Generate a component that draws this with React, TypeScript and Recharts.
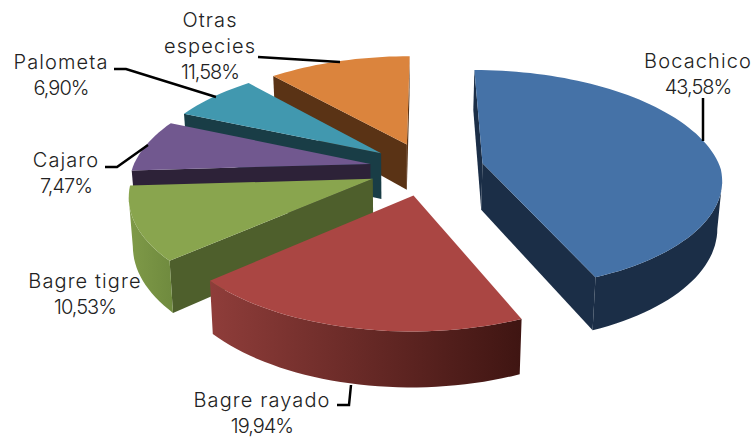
import React from 'react';
import { PieChart, Pie } from 'recharts';

// back-to-front so the nearer slices paint over the farther ones
const SPECIES = ['Otras especies', 'Palometa', 'Cajaro', 'Bagre tigre', 'Bagre rayado', 'Bocachico'];
const SHARES = [11.58, 6.9, 7.47, 10.53, 19.94, 43.58];

const TOP_COLORS = ['#DB843D', '#4198AF', '#71588F', '#89A54E', '#AA4643', '#4572A7'];
const CUT_COLORS = ['#5A3315', '#193D46', '#2D2238', '#4E5F2C', '#3F1512', '#1B2E47'];
const ARC_FROM = ['#8A5A2C', '#2A6878', '#4A3A60', '#7F9A48', '#8F3D3A', '#1B2E47'];
const ARC_TO = ['#5A3315', '#193D46', '#2D2238', '#6F8A3E', '#3F1512', '#1B2E47'];

const LABELS: Record<string, { lines: string[]; x: number; y: number; leader?: number[][] }> = {
  Bocachico: { lines: ['Bocachico'], x: 698, y: 68, leader: [[703, 98], [703, 141]] },
  'Bagre rayado': { lines: ['Bagre rayado'], x: 262, y: 407, leader: [[337, 405], [349, 405], [351, 385]] },
  'Bagre tigre': { lines: ['Bagre tigre'], x: 85, y: 288 },
  Cajaro: { lines: ['Cajaro'], x: 66, y: 167, leader: [[105, 167], [117, 167], [148, 145]] },
  Palometa: { lines: ['Palometa'], x: 61, y: 69, leader: [[114, 69], [126, 69], [216, 97]] },
  'Otras especies': { lines: ['Otras', 'especies'], x: 210, y: 27, leader: [[258, 57], [340, 62]] },
};

const data = SPECIES.map((name, i) => ({ name, value: SHARES[i] }));

const W = 752;
const H = 438;
const TILT = 0.465;
const EXPLODE = 0.2416;
const DEPTH = 47;
const FONT = 'Inter, Lato, sans-serif';

const rad = (d: number) => (d * Math.PI) / 180;

// flat plane -> screen, the far half shrinks a bit faster than the near half grows
const toScreen = (cx: number, cy: number, r: number, X: number, Y: number) => {
  const s = 1 / (1 + (Y > 0 ? 0.17 : 0.13) * Y);
  return { x: cx + r * X * s, y: cy - r * TILT * Y * s, s };
};

const under = (p: { x: number; y: number; s: number }) => ({
  x: 400 + (p.x - 400) * 0.985,
  y: p.y + DEPTH * p.s,
  s: p.s,
});

const pathOf = (pts: { x: number; y: number }[]) =>
  'M' + pts.map((p) => `${p.x.toFixed(1)},${p.y.toFixed(1)}`).join('L') + 'Z';

const Wedge3D = (props: any) => {
  const { cx, cy, outerRadius: r, startAngle, endAngle, name } = props;
  const i = SPECIES.indexOf(name);
  const a = 90 - endAngle; // theta: clockwise from 12 o'clock
  const b = 90 - startAngle;
  const mid = (a + b) / 2;
  const ox = EXPLODE * Math.sin(rad(mid));
  const oy = EXPLODE * Math.cos(rad(mid));
  const apex = toScreen(cx, cy, r, ox, oy);
  const arc: { x: number; y: number; s: number }[] = [];
  const steps = Math.ceil((b - a) / 2);
  for (let k = 0; k <= steps; k++) {
    const t = a + ((b - a) * k) / steps;
    arc.push(toScreen(cx, cy, r, ox + Math.sin(rad(t)), oy + Math.cos(rad(t))));
  }

  // only the faces whose rim runs leftwards (clockwise) look at the viewer
  const faces: React.ReactNode[] = [];
  const first = arc[0];
  const last = arc[arc.length - 1];
  if (first.x < apex.x) {
    faces.push(<path key="c1" d={pathOf([apex, first, under(first), under(apex)])} fill={CUT_COLORS[i]} />);
  }
  if (apex.x < last.x) {
    faces.push(<path key="c2" d={pathOf([last, apex, under(apex), under(last)])} fill={CUT_COLORS[i]} />);
  }
  const run = arc.filter((p, k) => k > 0 && p.x < arc[k - 1].x);
  const firstIdx = arc.findIndex((p) => p === run[0]);
  if (run.length) {
    const outline = [arc[firstIdx - 1], ...run];
    const lower = outline.map(under).reverse();
    faces.push(<path key="arc" d={pathOf([...outline, ...lower])} fill={`url(#arc-${i})`} />);
  }
  return (
    <g>
      <defs>
        <linearGradient id={`arc-${i}`} x1="1" y1="0" x2="0" y2="0">
          <stop offset="0" stopColor={ARC_TO[i]} />
          <stop offset="1" stopColor={ARC_FROM[i]} />
        </linearGradient>
      </defs>
      {faces}
      <path d={pathOf([apex, ...arc])} fill={TOP_COLORS[i]} />
    </g>
  );
};

const SliceLabel = (props: any) => {
  const { name, value } = props;
  const l = LABELS[name];
  const pct = value.toFixed(2).replace('.', ',') + '%';
  return (
    <g>
      {l.leader && (
        <polyline
          points={l.leader.map((p) => p.join(',')).join(' ')}
          fill="none"
          stroke="#000"
          strokeWidth={2.5}
        />
      )}
      <text x={l.x} y={l.y} textAnchor="middle" fontFamily={FONT} fontSize={20} fontWeight={300} fill="#222">
        {l.lines.map((t, k) => (
          <tspan key={k} x={l.x} dy={k === 0 ? 0 : 26} letterSpacing={1.1}>
            {t}
          </tspan>
        ))}
        <tspan x={l.x} dy={26} letterSpacing={-1}>
          {pct}
        </tspan>
      </text>
    </g>
  );
};

export default function App() {
  return (
    <div style={{ position: 'absolute', left: 0, top: 0, width: W, height: H, background: '#fff' }}>
      <PieChart width={W} height={H} margin={{ top: 0, right: 0, bottom: 0, left: 0 }}>
        <Pie
          data={data}
          dataKey="value"
          nameKey="name"
          cx={426.6}
          cy={168.5}
          outerRadius={238}
          startAngle={90}
          endAngle={450}
          stroke="none"
          shape={Wedge3D}
          label={SliceLabel}
          labelLine={false}
          isAnimationActive={false}
        />
      </PieChart>
    </div>
  );
}
